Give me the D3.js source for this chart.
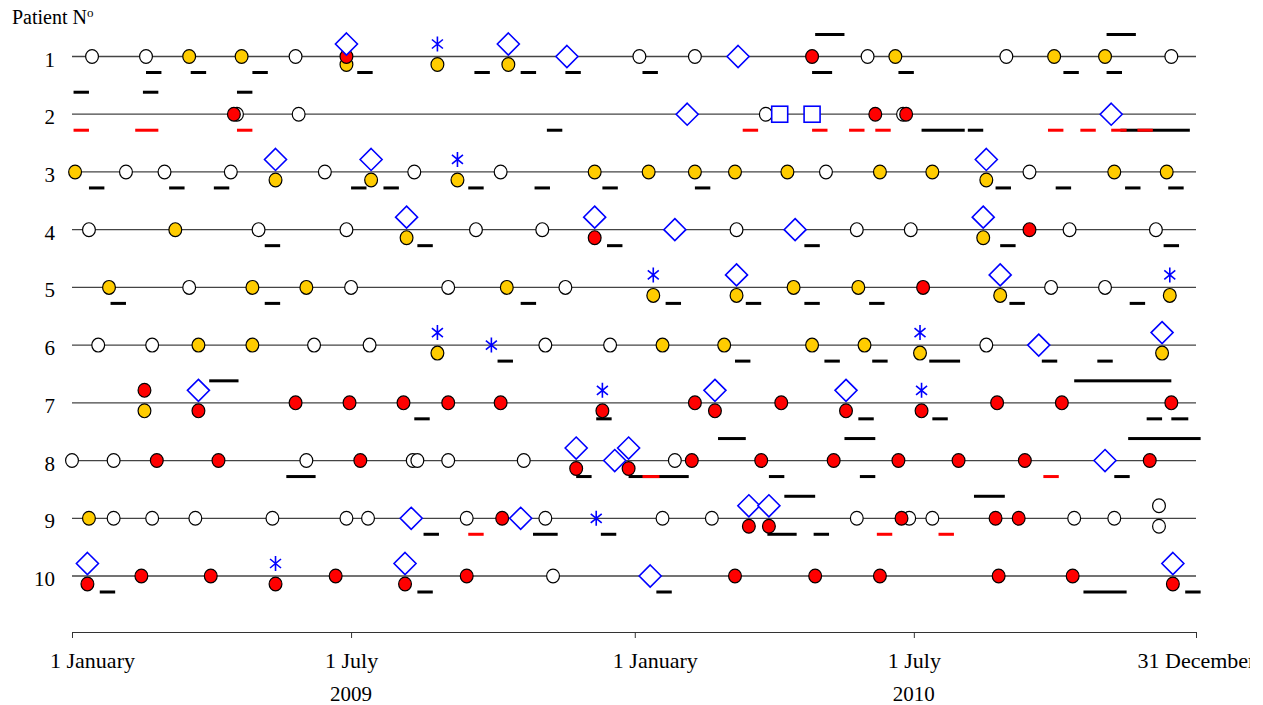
<!DOCTYPE html>
<html>
<head>
<meta charset="utf-8">
<script src="https://cdn.jsdelivr.net/npm/d3@7"></script>
<style>
body{margin:0;background:#fff}
svg text{font-family:"Liberation Serif","Times New Roman",serif;fill:#000}
</style>
</head>
<body>
<svg id="chart" width="1250" height="705"></svg>
<script>
'use strict'

// days counted from 1 January 2009, one inner array per patient (1..10)
const patients = [1,2,3,4,5,6,7,8,9,10]

const whiteDays = [
  [13,48,145,368,404,516,606,713],
  [107,147,450,539],
  [35,60,103,164,222,278,489,621],
  [11,121,178,262,305,431,509,544,647,703],
  [76,181,244,320,635,670],
  [17,52,157,193,307,349,593],
  [],
  [0,27,152,221,224,244,293,391],
  [27,52,80,130,178,192,256,307,383,415,509,543,558,650,676,705,705],
  [312]
]
const yellowDays = [
  [76,110,178,237,283,534,637,670],
  [],
  [2,132,194,250,339,374,404,430,464,524,558,593,676,710],
  [67,217,591],
  [24,117,152,282,377,431,468,510,602,712],
  [82,117,237,383,423,480,514,550,707],
  [47],
  [],
  [11],
  []
]
const redDays = [
  [178,480],
  [105,521,541],
  [],
  [339,621],
  [552],
  [],
  [47,82,145,180,215,244,278,344,404,417,460,502,551,600,642,713],
  [55,95,187,327,361,402,447,494,536,575,618,699],
  [279,439,452,538,599,614],
  [10,45,90,132,171,216,256,430,482,524,601,649,714]
]
const diamondDays = [
  [178,283,321,432],
  [399,674],
  [132,194,593],
  [217,339,391,469,591],
  [431,602],
  [627,707],
  [82,417,502],
  [327,352,361,670],
  [220,291,439,452],
  [10,216,375,714]
]
const asteriskDays = [
  [237],[],[250],[],[377,712],[237,272,550],[344,551],[],[340],[132]
]
const squareDays = [
  [],[459,480],[],[],[],[],[],[],[],[]
]

// periods [from, to] in days
const lowerBlack = [
  [[48,58],[77,87],[117,127],[185,195],[261,271],[291,301],[320,330],[370,380],[480,493],[536,546],[643,653],[671,681]],
  [[308,318],[551,579],[581,591],[680,725]],
  [[11,21],[63,73],[92,102],[181,191],[202,212],[257,267],[300,310],[344,354],[404,414],[599,609],[638,648],[683,693],[711,721]],
  [[125,135],[224,234],[347,357],[475,485],[602,612],[708,718]],
  [[25,35],[125,135],[291,301],[385,395],[437,447],[475,485],[517,527],[608,618],[686,696]],
  [[276,286],[430,440],[488,498],[519,529],[556,576],[629,639],[665,675]],
  [[222,232],[340,350],[510,520],[558,568],[697,707],[713,724]],
  [[139,158],[327,337],[361,400],[452,462],[511,521],[676,686]],
  [[228,238],[299,315],[343,353],[451,470],[481,491]],
  [[18,28],[224,234],[379,389],[656,684],[722,732]]
]
const upperBlack = [
  [[482,501],[671,690]],
  [[1,11],[46,56],[107,117]],
  [],[],[],[],
  [[89,108],[650,713]],
  [[419,437],[501,521],[685,732]],
  [[462,482],[585,605]],
  []
]
const lowerRed = [
  [],
  [[1,11],[41,56],[107,117],[435,445],[480,490],[504,514],[521,531],[633,643],[654,664],[674,684],[691,701]],
  [],[],[],[],[],
  [[370,381],[630,640]],
  [[257,267],[522,532],[562,572]],
  []
]

const tickDays   = [0,181,365,546,729]
const tickLabels = ['1 January','1 July','1 January','1 July','31 December']
const yearDays   = [181,546]
const yearLabels = ['2009','2010']

const start = new Date(Date.UTC(2009,0,1))
const day = n => d3.utcDay.offset(start, n)

const svg = d3.select('#chart')
const x = d3.scaleUtc().domain([day(0), day(729)]).range([72,1196])
const y = d3.scaleLinear().domain([1,10]).range([56.5,576])

// patient lines
svg.append('g').selectAll('line')
  .data(patients)
  .enter().append('line')
    .attr('x1', x(day(0))).attr('x2', x(day(729)))
    .attr('y1', d => y(d)).attr('y2', d => y(d))
    .attr('stroke', '#444').attr('stroke-width', 1.3)

// row labels
svg.append('g').selectAll('text')
  .data(patients)
  .enter().append('text')
    .attr('x', 55).attr('y', d => y(d) + 10)
    .attr('text-anchor', 'end')
    .style('font-size', '21px')
    .text(d => d)

let title = svg.append('text').attr('x', 12).attr('y', 24).style('font-size', '20px')
title.append('tspan').text('Patient N')
title.append('tspan').attr('dy', -7).style('font-size', '13px').text('o')

// bars
function bars(list, offset, color){
  let rows = []
  list.forEach((r,i) => r.forEach(b => rows.push({p: i + 1, s: b[0], e: b[1]})))
  svg.append('g').selectAll('rect')
    .data(rows)
    .enter().append('rect')
      .attr('x', d => x(day(d.s)))
      .attr('width', d => x(day(d.e)) - x(day(d.s)))
      .attr('y', d => y(d.p) + offset - 1.5)
      .attr('height', 3)
      .attr('fill', color)
}
bars(lowerBlack, 16, '#000')
bars(upperBlack, -22, '#000')
bars(lowerRed, 16, '#ff0000')

// markers
const kinds = [
  {name: 'white',    data: whiteDays,    rank: 3, order: 0},
  {name: 'yellow',   data: yellowDays,   rank: 2, order: 1},
  {name: 'red',      data: redDays,      rank: 1, order: 2},
  {name: 'square',   data: squareDays,   rank: 0, order: 3},
  {name: 'asterisk', data: asteriskDays, rank: 0, order: 4},
  {name: 'diamond',  data: diamondDays,  rank: 0, order: 5}
]
let events = []
kinds.forEach(k => k.data.forEach((r,i) => r.forEach(d =>
  events.push({kind: k.name, p: i + 1, d: d, rank: k.rank, order: k.order}))))

// same patient and day: stack above / on / below the line
const stacks = {1: [0], 2: [-12.5, 8], 3: [-12.5, 0, 8]}
d3.group(events, e => e.p + '-' + e.d).forEach(g => {
  g.sort((a,b) => a.rank - b.rank)
  g.forEach((e,i) => e.off = stacks[g.length][i])
})
events.sort((a,b) => a.order - b.order)

const fills = {white: '#fff', yellow: '#ffcc00', red: '#ff0000'}

let marks = svg.append('g').selectAll('g')
  .data(events)
  .enter().append('g')
    .attr('transform', d => 'translate(' + x(day(d.d)) + ',' + (y(d.p) + d.off) + ')')

marks.each(function(d){
  let m = d3.select(this)
  if (fills[d.kind]){
    m.append('ellipse').attr('rx', 6.4).attr('ry', 6.9)
      .attr('fill', fills[d.kind]).attr('stroke', '#000').attr('stroke-width', 1.2)
  } else if (d.kind == 'diamond'){
    m.append('path').attr('d', 'M0,-11L11,0L0,11L-11,0Z')
      .attr('fill', '#fff').attr('stroke', '#0000ff').attr('stroke-width', 1.6)
  } else if (d.kind == 'square'){
    m.append('rect').attr('x', -8).attr('y', -8).attr('width', 16).attr('height', 16)
      .attr('fill', '#fff').attr('stroke', '#0000ff').attr('stroke-width', 1.6)
  } else {
    m.append('path').attr('d', 'M0,-7.5V7.5M-5.5,-4.5L5.5,4.5M-5.5,4.5L5.5,-4.5')
      .attr('fill', 'none').attr('stroke', '#0000ff').attr('stroke-width', 1.6)
  }
})

// axis
let axis = svg.append('g')
  .attr('transform', 'translate(0,632)')
  .call(d3.axisBottom(x)
    .tickValues(tickDays.map(day))
    .tickFormat((d,i) => tickLabels[i])
    .tickSize(6).tickSizeOuter(0).tickPadding(14))
axis.select('.domain').attr('stroke', '#333')
axis.selectAll('.tick line').attr('stroke', '#333')
axis.selectAll('text')
  .style('font-family', '"Liberation Serif","Times New Roman",serif')
  .style('font-size', '22px').attr('fill', '#000')
  .attr('dx', (d,i) => tickLabels[i] == '1 January' ? 20 : 0)

svg.append('g').selectAll('text')
  .data(yearDays)
  .enter().append('text')
    .attr('x', d => x(day(d))).attr('y', 701)
    .attr('text-anchor', 'middle')
    .style('font-size', '21px')
    .text((d,i) => yearLabels[i])
</script>
</body>
</html>
